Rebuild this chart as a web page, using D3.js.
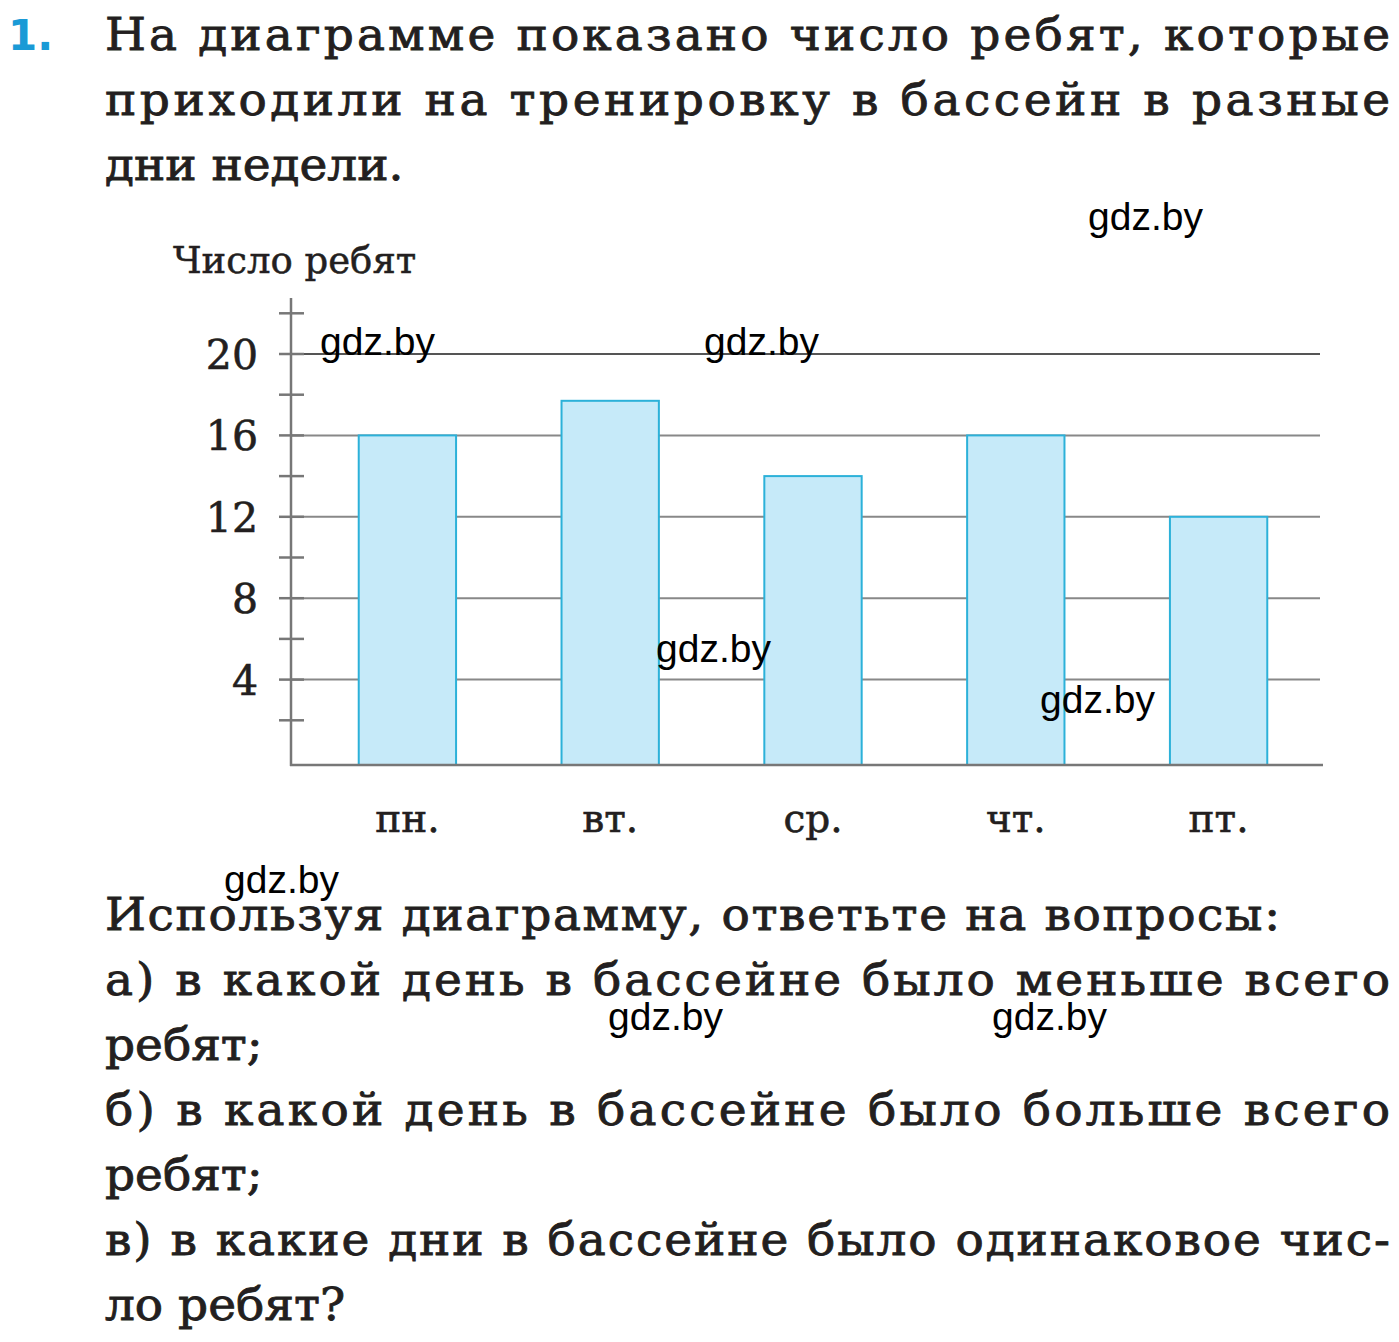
<!DOCTYPE html>
<html><head><meta charset="utf-8">
<script src="https://cdn.jsdelivr.net/npm/d3@7"></script>
<style>body{margin:0;background:#fff}</style></head>
<body><svg id="c" width="1399" height="1342"></svg>
<script>
const days = ["пн.","вт.","ср.","чт.","пт."];
const counts = [16, 17.7, 14, 16, 12];
const majorTicks = [4, 8, 12, 16, 20];
const minorTicks = [2, 6, 10, 14, 18, 22];
const titleLines = ["На диаграмме показано число ребят, которые","приходили на тренировку в бассейн в разные","дни недели."];
const bodyLines = ["Используя диаграмму, ответьте на вопросы:","а) в какой день в бассейне было меньше всего","ребят;","б) в какой день в бассейне было больше всего","ребят;","в) в какие дни в бассейне было одинаковое чис-","ло ребят?"];
const bodyJust = [true,true,false,true,false,true,false];
const marks = [[1088,230],[320,355],[704,355],[656,662],[1040,713],[224,893],[608,1030],[992,1030]];

const svg = d3.select("#c");
const serif = "'DejaVu Serif', serif";
const ink = "#231f20";

svg.append("text").attr("x",8).attr("y",50).attr("font-family","'DejaVu Sans', sans-serif")
  .attr("font-weight","bold").attr("font-size",42).attr("fill","#1a9ad6").text("1.");
function para(t, yy, just, len){
  const el = svg.append("text").attr("x",105).attr("y",yy).attr("font-family",serif)
    .attr("font-size",47).attr("fill",ink).attr("stroke",ink).attr("stroke-width",0.9)
    .attr("transform",`translate(105,${yy}) scale(1,0.95) translate(-105,${-yy})`).text(t);
  if(just) el.attr("textLength",len).attr("lengthAdjust","spacing");
}
titleLines.forEach((t,i)=>para(t,50+i*65,i<2,1285));

const y = d3.scaleLinear().domain([0,20]).range([761,354]);
const x = d3.scaleBand().domain(days).range([306,1320]).paddingInner(0.52).paddingOuter(0.26);

const g = svg.append("g");
g.selectAll(".grid").data(majorTicks).join("line")
  .attr("x1",291).attr("x2",1320).attr("y1",d=>y(d)).attr("y2",d=>y(d))
  .attr("stroke",d=>d===20?"#555":"#888").attr("stroke-width",2);
g.selectAll(".bar").data(counts).join("rect")
  .attr("x",(d,i)=>x(days[i])).attr("width",x.bandwidth())
  .attr("y",d=>y(d)).attr("height",d=>765-y(d))
  .attr("fill","#c6eaf9").attr("stroke","#2cb1d9").attr("stroke-width",2);
g.append("line").attr("x1",291).attr("x2",291).attr("y1",298).attr("y2",766).attr("stroke","#777").attr("stroke-width",2.5);
g.append("line").attr("x1",290).attr("x2",1323).attr("y1",765).attr("y2",765).attr("stroke","#777").attr("stroke-width",2.5);
g.selectAll(".mt").data(majorTicks.concat(minorTicks)).join("line")
  .attr("x1",279).attr("x2",304).attr("y1",d=>y(d)).attr("y2",d=>y(d)).attr("stroke","#777").attr("stroke-width",2.5);
g.selectAll(".tl").data(majorTicks).join("text")
  .attr("x",258).attr("y",d=>y(d)+15).attr("text-anchor","end").attr("font-family",serif)
  .attr("font-size",41).attr("fill",ink).attr("stroke",ink).attr("stroke-width",0.6).text(d=>d);
g.selectAll(".dl").data(days).join("text")
  .attr("x",d=>x(d)+x.bandwidth()/2).attr("y",832).attr("text-anchor","middle")
  .attr("font-family",serif).attr("font-size",39).attr("fill",ink).attr("stroke",ink).attr("stroke-width",0.6).text(d=>d);
svg.append("text").attr("x",173).attr("y",273).attr("font-family",serif).attr("font-size",37)
  .attr("fill",ink).attr("stroke",ink).attr("stroke-width",0.5).text("Число ребят");

bodyLines.forEach((t,i)=>para(t,930+i*65,bodyJust[i], i===0?1175:1285));
marks.forEach(([mx,my])=>svg.append("text").attr("x",mx).attr("y",my)
  .attr("font-family","'Liberation Sans', Arial, sans-serif").attr("font-size",39).attr("fill","#000").text("gdz.by"));
</script></body></html>
